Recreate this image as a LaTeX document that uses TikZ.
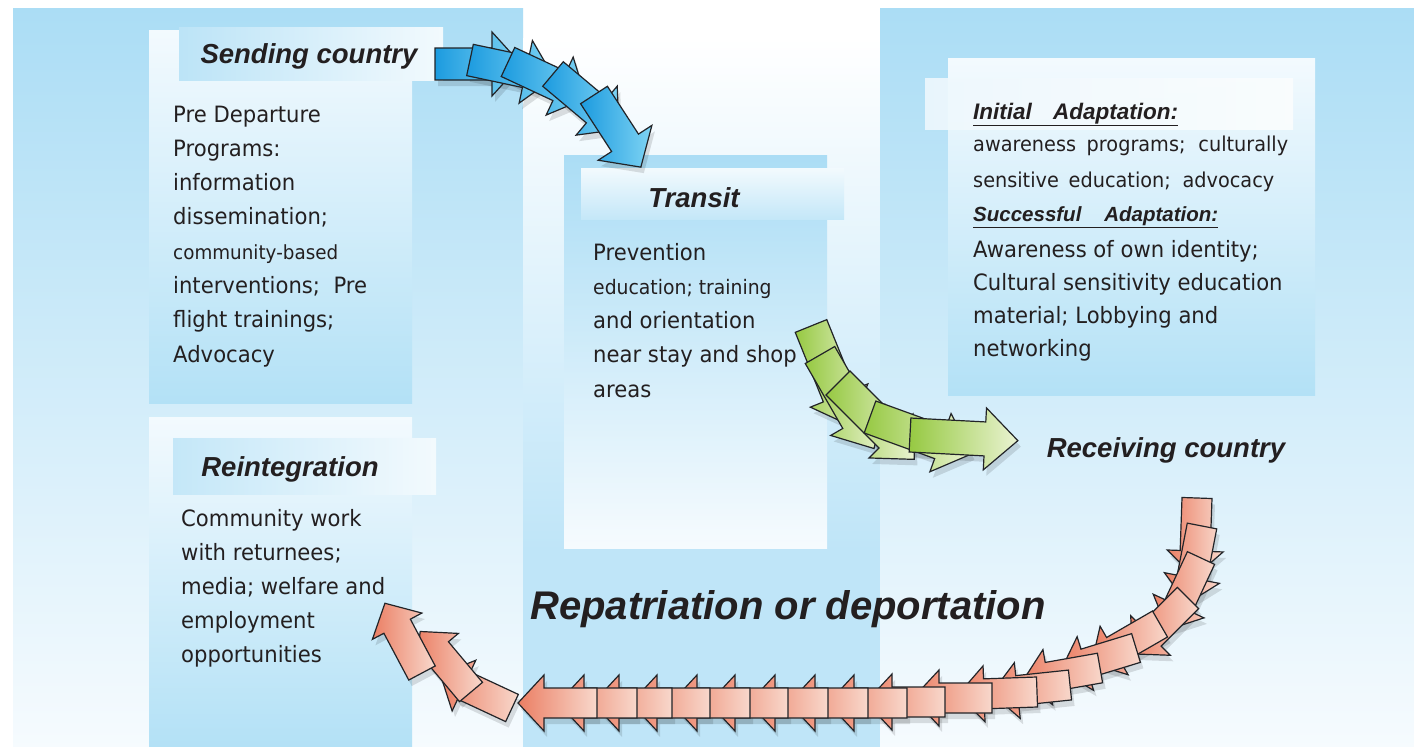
\documentclass[tikz,border=0pt]{standalone}
\usepackage{fontspec}
\setmainfont{DejaVu Sans}[FakeStretch=0.94]
\newfontfamily\hfont{Liberation Sans}
\definecolor{txt}{HTML}{231F20}
\definecolor{colTop}{HTML}{ABDDF5}
\definecolor{colMid}{HTML}{D0ECF9}
\definecolor{colBot}{HTML}{F6FBFE}
\definecolor{boxBlue}{HTML}{B3E1F6}
\definecolor{boxWhite}{HTML}{F3FAFE}
\definecolor{midBlue}{HTML}{BFE5F8}
\definecolor{arrline}{HTML}{222428}
\definecolor{blueA}{HTML}{1C9BDF}
\definecolor{blueB}{HTML}{7FD4F4}
\definecolor{greenA}{HTML}{96C942}
\definecolor{greenB}{HTML}{EAF3D2}
\definecolor{redA}{HTML}{EB7E63}
\definecolor{redB}{HTML}{F8D8CC}
\usetikzlibrary{calc}
\newcommand\seg[8]{\begin{scope}[shift={(#1,#2)},rotate=-#3]
  \path[#8] (0,-#6) -- (#4,-#6) -- (#4,-#7) -- ({#4+#5},0) -- (#4,#7) -- (#4,#6) -- (0,#6) -- cycle;
\end{scope}}
\newcommand\ulbox[2]{\vtop{\hbox{\makebox[#1][s]{#2}}\kern1.3pt\hrule height 1.5pt}}
\tikzset{
  bodytext/.style={font=\fontsize{22.5}{26}\selectfont, text=txt, anchor=base west, inner sep=0pt},
  headtext/.style={font=\hfont\bfseries\itshape\fontsize{27.5}{30}\selectfont, text=txt, anchor=base, inner sep=0pt},
  bigtext/.style={font=\hfont\bfseries\itshape\fontsize{40}{44}\selectfont, text=txt, anchor=base, inner sep=0pt},
  subhead/.style={font=\hfont\bfseries\itshape\fontsize{22.5}{24}\selectfont, text=txt, anchor=base west, inner sep=0pt},
  shad/.style={fill=black, opacity=0.12},
  bluearr/.style={draw=arrline, line width=1.2pt, left color=blueA, right color=blueB},
  greenarr/.style={draw=arrline, line width=1.2pt, left color=greenA, right color=greenB},
  redarr/.style={draw=arrline, line width=1.2pt, left color=redA, right color=redB},
}
\begin{document}
\begin{tikzpicture}[x=1pt,y=-1pt]
\useasboundingbox (0,0) rectangle (1414,747);
\fill[white] (0,0) rectangle (1414,747);
% columns
\shade[top color=colTop, middle color=colMid, bottom color=colBot] (13,8) rectangle (523,747);
\shade[top color=white, bottom color=midBlue] (523,38) rectangle (880,550);
\fill[midBlue] (523,550) rectangle (880,747);
\shade[top color=colTop, middle color=colMid, bottom color=colBot] (880,8) rectangle (1414,747);
% boxes
\shade[top color=boxWhite, bottom color=boxBlue] (149,30) rectangle (412,403);
\shade[left color=colTop!80!white, right color=white!85!colTop] (179,27) rectangle (443,80);
\shade[top color=boxWhite, bottom color=boxBlue] (149,417) rectangle (412,747);
\shade[left color=colTop!70!white, right color=white!85!colTop] (173,438) rectangle (436,494);
\shade[top color=colTop, middle color=colMid!60!white, bottom color=colBot] (564,155) rectangle (827,548);
\shade[top color=white!85!colTop, bottom color=colTop!70!white] (581,168) rectangle (844,219);
\shade[top color=boxWhite, bottom color=boxBlue] (948,58) rectangle (1315,395);
\shade[left color=white!80!colTop, right color=white!95!colTop, opacity=0.9] (925,78) rectangle (1293,129);
% headings
\node[headtext] (sendh) at (309,63) {Sending country};
\node[headtext] (transh) at (694,207) {Transit};
\node[headtext] (reinh) at (290,476) {Reintegration};
\node[headtext] (recvh) at (1166,457) {Receiving country};
\node[bigtext] (repat) at (788,619) {Repatriation or deportation};
% sending body
\foreach \t [count=\i from 0] in {Pre Departure, Programs:, information, dissemination;, {\fontsize{19.5}{22}\selectfont community-based}, interventions;\ \ Pre, flight trainings;, Advocacy}
  \node[bodytext] (send\i) at (173,{122+34.3*\i}) {\t};
% transit body
\foreach \t [count=\i from 0] in {Prevention, {\fontsize{20}{22}\selectfont education; training}, and orientation, near stay and shop, areas}
  \node[bodytext] (tran\i) at (593,{260+34.25*\i}) {\t};
% reintegration body
\foreach \t [count=\i from 0] in {Community work, with returnees;, media; welfare and, employment, opportunities}
  \node[bodytext] (rein\i) at (181,{526+34*\i}) {\t};
% receiving body
\node[subhead] (ia) at (973,119) {\ulbox{205pt}{Initial Adaptation:}};
\node[bodytext, font=\fontsize{20.5}{24}\selectfont] (r1) at (973,151) {\makebox[315pt][s]{awareness programs; culturally}};
\node[bodytext, font=\fontsize{20.5}{24}\selectfont] (r2) at (973,187) {\makebox[301pt][s]{sensitive education; advocacy}};
\node[subhead, font=\hfont\bfseries\itshape\fontsize{20.5}{24}\selectfont] (sa) at (973,221) {\ulbox{245pt}{Successful Adaptation:}};
\node[bodytext] (r4) at (973,257) {Awareness of own identity;};
\node[bodytext] (r5) at (973,290) {Cultural sensitivity education};
\node[bodytext] (r6) at (973,323) {material; Lobbying and};
\node[bodytext] (r7) at (973,356) {networking};
% blue chain
\foreach \x/\y/\a in {435/64/0,470/60/12,508/62/25,553/74/40,594/95/57}
  \seg{\x+3}{\y+6}{\a}{57}{29}{16}{32}{shad};
\foreach \x/\y/\a in {435/64/0,470/60/12,508/62/25,553/74/40,594/95/57}
  \seg{\x}{\y}{\a}{57}{29}{16}{32}{bluearr};
% green chain
\foreach \x/\y/\a in {811/326/68,820/355/60,838/383/45,870/417/20,910/435/3}
  \seg{\x+3}{\y+6}{\a}{75}{33}{17}{31}{shad};
\foreach \x/\y/\a in {811/326/68,820/355/60,838/383/45,870/417/20,910/435/3}
  \seg{\x}{\y}{\a}{75}{33}{17}{31}{greenarr};
% red chain
\foreach \x/\y/\a in {1197/498/92,1202/526/101,1201/558/115,1188/598/135,1160/624/150,1136/648/163,1100/668/170,1070/685/174,1037/692/178,992/698/180,945/702/180,907/703/180,868/703/180,828/703/180,788/703/180,750/703/180,710/703/180,672/703/180,637/703/180,597/703/180,512/708/205,471/692/230,422/673/242}
  \seg{\x+3}{\y+6}{\a}{53}{26}{15}{28}{shad};
\foreach \x/\y/\a in {1197/498/92,1202/526/101,1201/558/115,1188/598/135,1160/624/150,1136/648/163,1100/668/170,1070/685/174,1037/692/178,992/698/180,945/702/180,907/703/180,868/703/180,828/703/180,788/703/180,750/703/180,710/703/180,672/703/180,637/703/180,597/703/180,512/708/205,471/692/230,422/673/242}
  \seg{\x}{\y}{\a}{53}{26}{15}{28}{redarr};
\end{tikzpicture}
\end{document}
